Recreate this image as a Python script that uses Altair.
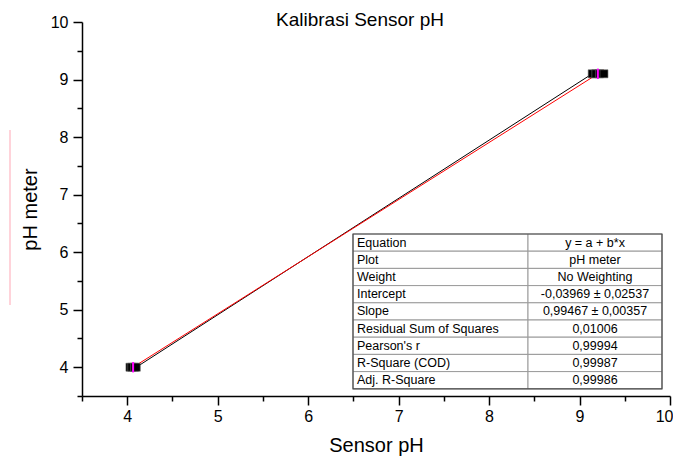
import altair as alt
import pandas as pd

# ---- data ----
sensor_ph = [4.03, 4.05, 4.08, 4.10, 9.14, 9.18, 9.22, 9.27]
meter_ph = [4.0, 4.0, 4.0, 4.0, 9.1, 9.1, 9.1, 9.1]
err_half = [0.09, 0.09]

x_major = [4, 5, 6, 7, 8, 9, 10]
y_major = [4, 5, 6, 7, 8, 9, 10]
x_minor = [3.5, 4.5, 5.5, 6.5, 7.5, 8.5, 9.5]
y_minor = [3.5, 4.5, 5.5, 6.5, 7.5, 8.5, 9.5]

chart_title = ["Kalibrasi Sensor pH"]
table_labels = ["Equation", "Plot", "Weight", "Intercept", "Slope",
                "Residual Sum of Squares", "Pearson's r", "R-Square (COD)",
                "Adj. R-Square"]
table_values = ["y = a + b*x", "pH meter", "No Weighting",
                "-0,03969 ± 0,02537", "0,99467 ± 0,00357", "0,01006",
                "0,99994", "0,99987", "0,99986"]

FONT = "Liberation Sans"

pts = pd.DataFrame({"sensor": sensor_ph, "meter": meter_ph})
groups = pts.groupby("meter", as_index=False)["sensor"].mean()
groups["err"] = err_half

xs = alt.Scale(domain=[3.5, 10], nice=False, zero=False)
ys = alt.Scale(domain=[3.5, 10], nice=False, zero=False)

x_axis = alt.Axis(values=x_major, tickSize=9, labelPadding=3, orient="bottom",
                  labelFlush=True, labelFlushOffset=3,
                  title="Sensor pH", titleX=294, titleY=55,
                  titleAlign="center", titleBaseline="alphabetic", format="d")
y_axis = alt.Axis(values=y_major, tickSize=9, labelPadding=5, orient="left",
                  labelFlush=False,
                  title="pH meter", titleAngle=270, titleX=-52, titleY=187,
                  titleAlign="center", titleBaseline="middle", format="d")

base = alt.Chart(pts)

line_black = base.mark_line(color="black", strokeWidth=1).encode(
    x=alt.X("sensor:Q", scale=xs, axis=x_axis),
    y=alt.Y("meter:Q", scale=ys, axis=y_axis),
    order="sensor:Q",
)

fit = base.transform_regression("sensor", "meter").mark_line(
    color="red", strokeWidth=1
).encode(
    x=alt.X("sensor:Q", scale=xs, axis=None),
    y=alt.Y("meter:Q", scale=ys, axis=None),
)

squares = base.mark_square(size=64, color="black", opacity=1,
                           stroke="#666", strokeWidth=0.6).encode(
    x=alt.X("sensor:Q", scale=xs, axis=None),
    y=alt.Y("meter:Q", scale=ys, axis=None),
)

errs = alt.Chart(groups).transform_calculate(
    lo="datum.meter - datum.err", hi="datum.meter + datum.err"
).mark_rule(color="#ff00ff", strokeWidth=2).encode(
    x=alt.X("sensor:Q", scale=xs, axis=None),
    y=alt.Y("lo:Q", scale=ys, axis=None),
    y2="hi:Q",
)

minor = alt.Chart(pd.DataFrame({"mx": x_minor, "my": y_minor})).mark_point(
    opacity=0
).encode(
    x=alt.X("mx:Q", scale=xs, axis=alt.Axis(values=x_minor, tickSize=5,
                                             labels=False, domain=False,
                                             title=None, orient="bottom")),
    y=alt.Y("my:Q", scale=ys, axis=alt.Axis(values=y_minor, tickSize=5,
                                             labels=False, domain=False,
                                             title=None, orient="left")),
)

# ---- chart title (text placed in pixels above the plot) ----
title_mark = alt.Chart(pd.DataFrame({"t": chart_title})).mark_text(
    font=FONT, fontSize=19, align="center", baseline="alphabetic",
    color="black"
).encode(x=alt.value(278), y=alt.value(3.5), text="t:N")

# ---- fit result table (pixel layout) ----
T_LEFT, T_MID, T_RIGHT, T_TOP, ROW_H = 271, 446, 580, 212, 17.2
tab = pd.DataFrame({"label": table_labels, "value": table_values,
                    "row": list(range(len(table_labels)))})
tab_base = alt.Chart(tab).transform_calculate(
    y0=f"{T_TOP} + datum.row * {ROW_H}",
    y1=f"{T_TOP} + (datum.row + 1) * {ROW_H}",
    yc=f"{T_TOP} + (datum.row + 0.5) * {ROW_H}",
    xl=str(T_LEFT), xm=str(T_MID), xr=str(T_RIGHT),
    xt=str(T_LEFT + 4), xv=str((T_MID + T_RIGHT) / 2),
)
cells_l = tab_base.mark_rect(fill="white", stroke="#9a9a9a", strokeWidth=1).encode(
    x=alt.X("xl:Q", scale=None, axis=None), x2="xm:Q",
    y=alt.Y("y0:Q", scale=None, axis=None), y2="y1:Q",
)
cells_r = tab_base.mark_rect(fill="white", stroke="#9a9a9a", strokeWidth=1).encode(
    x=alt.X("xm:Q", scale=None, axis=None), x2="xr:Q",
    y=alt.Y("y0:Q", scale=None, axis=None), y2="y1:Q",
)
outer = alt.Chart(pd.DataFrame({"n": [len(table_labels)]})).transform_calculate(
    y0=str(T_TOP), y1=f"{T_TOP} + datum.n * {ROW_H}",
    xl=str(T_LEFT), xr=str(T_RIGHT),
).mark_rect(fill=None, stroke="#4a4a4a", strokeWidth=1.2).encode(
    x=alt.X("xl:Q", scale=None, axis=None), x2="xr:Q",
    y=alt.Y("y0:Q", scale=None, axis=None), y2="y1:Q",
)
txt_l = tab_base.mark_text(font=FONT, fontSize=12.5, align="left",
                           baseline="middle", color="black").encode(
    x=alt.X("xt:Q", scale=None, axis=None),
    y=alt.Y("yc:Q", scale=None, axis=None),
    text="label:N",
)
txt_r = tab_base.mark_text(font=FONT, fontSize=12.5, align="center",
                           baseline="middle", color="black").encode(
    x=alt.X("xv:Q", scale=None, axis=None),
    y=alt.Y("yc:Q", scale=None, axis=None),
    text="value:N",
)

pink = alt.Chart(pd.DataFrame({"a": [0]})).mark_rule(
    color="#ffd3da", strokeWidth=2
).encode(x=alt.value(-72), y=alt.value(108), y2=alt.value(283))

chart = alt.layer(
    pink, line_black, fit, squares, errs, minor,
    cells_l, cells_r, outer, txt_l, txt_r, title_mark,
).resolve_axis(x="independent", y="independent").properties(
    width=588, height=374,
    autosize=alt.AutoSizeParams(type="none"),
    padding={"left": 74, "top": 14, "right": 3, "bottom": 60},
).configure_view(stroke=None).configure_axis(
    domainColor="black", domainWidth=1.5, tickColor="black", tickWidth=1.5,
    labelFont=FONT, labelFontSize=16, labelColor="black",
    titleFont=FONT, titleFontSize=20, titleFontWeight="normal",
    titleColor="black", grid=False,
)

chart.save("out.html", embed_options={"renderer": "svg", "actions": False})
